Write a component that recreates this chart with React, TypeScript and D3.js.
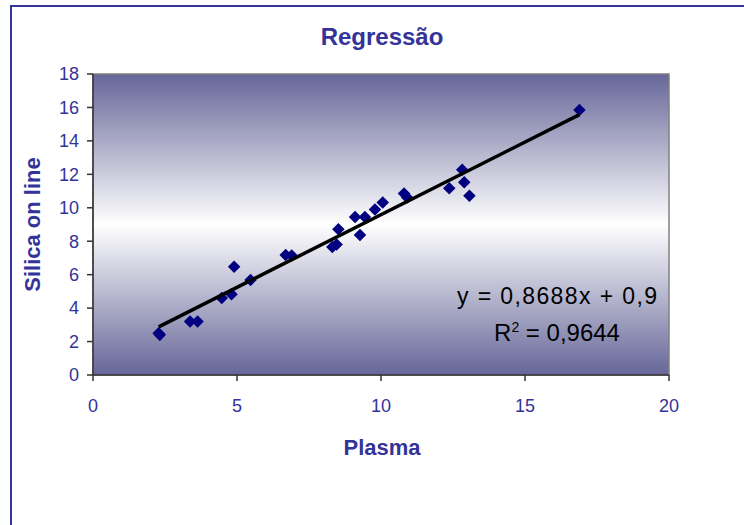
import React from "react";
import * as d3 from "d3";

const plasma = [2.28, 2.32, 3.37, 3.63, 4.47, 4.81, 4.9, 5.47, 6.69, 6.9, 8.31, 8.46, 8.52, 9.1, 9.27, 9.44, 9.79, 10.06, 10.8, 10.91, 12.37, 12.82, 12.89, 13.07, 16.89];
const silica = [2.5, 2.4, 3.2, 3.2, 4.6, 4.83, 6.48, 5.68, 7.18, 7.15, 7.65, 7.8, 8.72, 9.45, 8.37, 9.45, 9.9, 10.32, 10.85, 10.62, 11.17, 12.28, 11.52, 10.72, 15.85];
const xTicks = [0, 5, 10, 15, 20];
const yTicks = [0, 2, 4, 6, 8, 10, 12, 14, 16, 18];
const slope = 0.8688;
const intercept = 0.9;
const eqLabel = "y = 0,8688x + 0,9";
const r2Label = "0,9644";

const FONT = "'Liberation Sans', Arial, sans-serif";
const BLUE = "#333399";

export default function App() {
  const x = d3.scaleLinear().domain([0, 20]).range([93, 669]);
  const y = d3.scaleLinear().domain([0, 18]).range([375, 74]);
  const pts = plasma.map((p, i) => [p, silica[i]] as [number, number]);
  const xmin = d3.min(plasma) as number;
  const xmax = d3.max(plasma) as number;
  const trend = d3.line<number>().x((v) => x(v)).y((v) => y(slope * v + intercept))([xmin, xmax]) || "";
  const diamond = d3.symbol().type(d3.symbolDiamond2).size(100)() || "";

  return (
    <svg width={744} height={525} style={{ position: "absolute", left: 0, top: 0, background: "#fff" }}>
      <defs>
        <linearGradient id="bg" x1="0" y1="0" x2="0" y2="1">
          <stop offset="0%" stopColor="#666699" />
          <stop offset="50%" stopColor="#ffffff" />
          <stop offset="100%" stopColor="#666699" />
        </linearGradient>
      </defs>
      <rect x={11} y={6} width={800} height={600} fill="none" stroke={BLUE} strokeWidth={2} />
      <text x={382} y={45} textAnchor="middle" fontFamily={FONT} fontWeight="bold" fontSize={24} fill={BLUE}>
        Regressão
      </text>
      <rect x={x(0)} y={y(18)} width={x(20) - x(0)} height={y(0) - y(18)} fill="url(#bg)" stroke="#808080" strokeWidth={1.5} />
      <line x1={x(0)} x2={x(0)} y1={y(18)} y2={y(0)} stroke="#333" strokeWidth={1.5} />
      <line x1={x(0)} x2={x(20)} y1={y(0)} y2={y(0)} stroke="#333" strokeWidth={1.5} />
      {yTicks.map((t) => (
        <g key={"y" + t}>
          <line x1={x(0) - 6} x2={x(0)} y1={y(t)} y2={y(t)} stroke="#333" strokeWidth={1.5} />
          <text x={79} y={y(t)} dy="0.35em" textAnchor="end" fontFamily={FONT} fontSize={18} fill={BLUE}>
            {t}
          </text>
        </g>
      ))}
      {xTicks.map((t) => (
        <g key={"x" + t}>
          <line x1={x(t)} x2={x(t)} y1={y(0)} y2={y(0) + 6} stroke="#333" strokeWidth={1.5} />
          <text x={x(t)} y={412} textAnchor="middle" fontFamily={FONT} fontSize={18} fill={BLUE}>
            {t}
          </text>
        </g>
      ))}
      <text x={382} y={455} textAnchor="middle" fontFamily={FONT} fontWeight="bold" fontSize={22} fill={BLUE}>
        Plasma
      </text>
      <text transform={`translate(40, ${(y(0) + y(18)) / 2}) rotate(-90)`} textAnchor="middle" fontFamily={FONT} fontWeight="bold" fontSize={22} fill={BLUE}>
        Silica on line
      </text>
      {pts.map((p, i) => (
        <path key={i} d={diamond} transform={`translate(${x(p[0])},${y(p[1])})`} fill="#000080" />
      ))}
      <path d={trend} stroke="#000" strokeWidth={3.5} fill="none" />
      <text x={557} y={304} textAnchor="middle" fontFamily={FONT} fontSize={23} fill="#000" textLength={200} lengthAdjust="spacing">
        {eqLabel}
      </text>
      <text x={557} y={341} textAnchor="middle" fontFamily={FONT} fontSize={24} fill="#000">
        R<tspan dy={-9} fontSize={14}>2</tspan>
        <tspan dy={9}> = {r2Label}</tspan>
      </text>
    </svg>
  );
}
